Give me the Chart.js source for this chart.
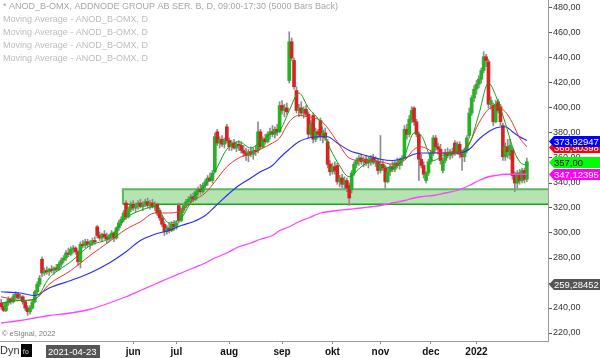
<!DOCTYPE html>
<html><head><meta charset="utf-8">
<script src="https://cdn.jsdelivr.net/npm/chart.js@4.4.1/dist/chart.umd.min.js"></script>
<style>html,body{margin:0;padding:0;background:#fff;overflow:hidden}#wrap{width:600px;height:358px;position:relative}</style>
</head><body><div id="wrap"><canvas id="c" width="600" height="358"></canvas></div>
<script>
// ---- daily OHLC (ANOD_B) ----
const open=[244,241,238,244,247,245,249,251,248,249,
245,240,237,240,245,253,259,279,268,270,
269,271,270,272,271,275,278,280,284,283,
287,288,285,277,291,290,293,291,292,294,
305,298,296,299,297,295,298,300,296,304,
308,311,324,313,319,323,320,322,324,321,
323,325,322,324,321,323,318,312,307,301,
304,302,307,305,322,310,318,322,325,327,
329,327,333,335,333,338,341,344,342,349,
381,372,375,371,385,374,369,372,368,371,
370,366,364,362,365,363,366,366,381,369,
375,373,379,381,379,383,381,402,398,400,
422,453,438,414,398,400,396,399,395,379,
394,375,381,390,377,380,373,355,349,353,
354,341,344,339,342,338,335,348,355,358,
360,357,359,356,358,360,357,357,350,355,
352,341,349,353,351,356,354,358,360,383,
379,391,400,389,379,359,354,342,348,357,
364,376,369,367,350,358,364,362,365,372,
364,371,363,361,366,378,396,408,415,419,
423,430,441,437,403,402,389,405,401,386,
361,369,362,366,346,340,348,342,350,343];
const high=[247,244,245,249,248,251,253,252,251,250,
246,242,242,246,254,261,266,281,272,273,
272,274,273,275,277,280,282,286,288,289,
290,289,286,293,294,295,295,294,296,297,
306,301,300,302,300,299,302,301,305,310,
313,318,326,321,325,326,324,326,327,325,
327,328,326,327,325,324,320,314,309,306,
308,309,310,310,324,320,324,327,329,331,
332,334,337,339,340,343,346,348,350,380,
383,377,378,376,387,376,374,375,373,374,
373,370,368,367,369,368,370,389,383,377,
379,381,384,386,385,387,405,406,403,404,
461,456,440,417,403,405,401,402,397,390,
396,384,383,392,382,384,375,358,356,357,
356,346,347,345,344,340,350,357,360,362,
363,361,362,361,362,363,361,359,378,358,
354,352,355,357,358,360,360,362,386,387,
394,401,401,391,381,363,357,349,359,366,
378,378,372,371,360,367,368,367,368,374,
373,373,366,368,378,400,410,418,422,426,
432,445,443,439,409,404,406,407,403,388,
372,375,375,368,349,350,351,352,352,360];
const low=[239,237,237,242,243,244,247,247,246,243,
238,234,235,239,244,251,257,265,266,267,
266,268,267,269,270,273,276,278,281,282,
284,283,274,272,288,288,289,287,290,291,
296,294,293,295,292,293,295,293,295,302,
306,309,311,312,317,318,317,319,320,318,
321,320,319,320,318,314,310,305,298,299,
300,301,302,303,308,309,316,320,322,324,
325,326,330,331,332,336,338,341,340,348,
370,368,369,368,372,366,366,367,365,366,
364,361,358,357,361,359,362,364,367,368,
371,372,375,377,376,378,380,395,393,395,
420,438,415,396,393,394,392,393,376,377,
372,373,376,374,372,374,352,346,347,347,
339,337,336,335,333,322,332,346,352,354,
355,353,354,352,354,355,353,347,348,350,
336,340,346,349,349,352,351,354,359,375,
377,388,386,377,342,352,344,340,346,355,
362,366,363,355,348,356,360,359,360,362,
363,360,350,357,364,376,394,405,411,416,
420,428,433,400,399,386,388,396,386,358,
358,360,359,343,333,336,339,340,340,341];
const close=[241,238,244,247,245,249,251,248,249,245,
240,237,240,245,253,259,264,268,270,269,
271,270,272,271,275,278,280,284,283,287,
288,285,277,291,290,293,291,292,294,293,
298,296,299,297,295,298,300,296,304,308,
311,316,313,319,323,320,322,324,321,323,
325,322,324,321,323,316,312,307,301,304,
302,307,305,308,310,318,322,325,327,329,
327,333,335,333,338,341,344,342,348,377,
372,375,371,374,374,369,372,368,371,370,
366,364,362,365,363,366,365,381,369,375,
373,379,381,379,383,381,402,398,400,397,
453,440,417,398,400,396,399,395,379,387,
375,381,379,377,380,376,355,349,353,350,
341,344,339,342,336,328,348,355,358,360,
357,359,356,358,360,357,358,350,355,352,
341,349,353,351,356,354,358,360,383,379,
391,398,389,379,359,354,347,348,357,364,
376,369,367,358,358,364,362,365,363,364,
371,363,361,366,376,396,408,415,419,423,
430,441,438,403,406,389,403,398,389,361,
369,365,370,346,340,348,342,350,343,357];

// ---- moving averages, read at these bar positions ----
const maIdx=[0,8,14,20,29,37,45,52,58,64,70,75,80,85,89,94,99,104,108,113,116,120,124,128,133,136,140,145,150,154,158,163,168,172,175,180,185,190,195,199,203,206,210,213,216,219];
const maFast=[244,246,247,264,277,290,296,312,318,321,308,312,328,338,349,367,373,368,373,380,382,398,412,400,388,372,357,345,353,357,354,352,362,380,378,358,363,365,371,395,420,410,388,369,357,354];
const maMid=[249,246,247,259,270,282,293,303,309,316,316,318,326,332,341,353,360,364,367,372,376,389,394,393,390,384,373,360,358,358,357,355,358,367,369,365,364,364,372,388,399,401,397,388,376,369];
const maSlow=[253,252,250,256,262,268,276,285,294,299,302,306,309,314,321,330,338,344,349,354,360,367,373,376,377,377,372,366,363,361,359,358,360,363,364,364,364,364,367,375,381,384,385,381,377,374];
const maLong=[228,230,232,234,236,239,244,249,254,259,264,268,272,276,280,284,289,292,295,298,302,305,309,312,316,317,318,319,320,321,322,324,326,328,329,330,332,334,338,342,345,346,347,347,347,347];

// ---- axis / annotation values ----
const yTicks=[220,240,260,280,300,320,340,360,380,400,420,440,460,480];
const monthIdx=[55,73,95,117,138,158,179,198];
const monthLabels=['jun','jul','aug','sep','okt','nov','dec','2022'];
const zoneRange=[323,335];
const zoneStartIdx=50.7;
const tagValues=[259.28452,347.12395,368.90398,373.92947,357.00];
const tagTexts=['259,28452','347,12395','368,90398','373,92947','357,00'];
const legendLines=['* ANOD_B-OMX, ADDNODE GROUP AB SER. B, D, 09:00-17:30 (5000 Bars Back)','Moving Average - ANOD_B-OMX, D','Moving Average - ANOD_B-OMX, D','Moving Average - ANOD_B-OMX, D','Moving Average - ANOD_B-OMX, D'];
const cursorDate='2021-04-23';

// ---- styles ----
const UP='#22b422', DOWN='#d82222', WICK='#8d8d8d';
const tagBg=['#555555','#ff00ff','#ff0000','#0000ff','#00ff00'];
const tagFg=['#ffffff','#ffffff','#ffffff','#ffffff','#000000'];
const FONT='"Liberation Sans", Arial, sans-serif';

const wickData=open.map((_,i)=>({x:i,y:[low[i],high[i]]}));
const bodyData=open.map((o,i)=>({x:i,y:[Math.min(o,close[i]),Math.max(o,close[i])]}));
const bodyColors=open.map((o,i)=>close[i]>=o?UP:DOWN);
const maPts=arr=>maIdx.map((x,k)=>({x:x,y:arr[k]}));

const overlay={
  id:'overlay',
  beforeDatasetsDraw(chart){
    const {ctx,chartArea:a,scales:{x,y}}=chart;
    const x0=x.getPixelForValue(zoneStartIdx), yT=y.getPixelForValue(zoneRange[1]), yB=y.getPixelForValue(zoneRange[0]);
    ctx.save();
    ctx.fillStyle='rgba(120,205,115,0.55)';
    ctx.fillRect(x0,yT,a.right-x0,yB-yT);
    ctx.strokeStyle='#5cb85c';ctx.lineWidth=2;
    ctx.beginPath();ctx.moveTo(a.right,yT);ctx.lineTo(x0,yT);ctx.lineTo(x0,yB);ctx.stroke();
    ctx.strokeStyle='#22a022';ctx.lineWidth=1.5;
    ctx.beginPath();ctx.moveTo(x0,yB);ctx.lineTo(a.right,yB);ctx.stroke();
    ctx.restore();
  },
  afterDraw(chart){
    const {ctx,scales:{y}}=chart;
    ctx.save();
    ctx.font='9px '+FONT;ctx.textBaseline='middle';ctx.textAlign='left';
    legendLines.forEach((t,k)=>{ctx.fillStyle=k===0?'#a6a6a6':'#bcbcbc';ctx.fillText(t,3,7+k*13);});
    ctx.font='9.5px '+FONT;
    tagValues.forEach((v,k)=>{
      const py=Math.round(y.getPixelForValue(v))+0.5, L=549;
      ctx.fillStyle=tagBg[k];
      ctx.beginPath();ctx.moveTo(L,py);ctx.lineTo(L+5,py-5.5);ctx.lineTo(600,py-5.5);ctx.lineTo(600,py+5.5);ctx.lineTo(L+5,py+5.5);ctx.closePath();ctx.fill();
      ctx.fillStyle=tagFg[k];ctx.fillText(tagTexts[k],L+5,py+0.5);
    });
    ctx.font='7.5px '+FONT;ctx.fillStyle='#7a7a7a';ctx.fillText('\u00a9 eSignal, 2022',2,334);
    ctx.font='11px '+FONT;ctx.fillStyle='#333';ctx.fillText('Dyn',0,351);
    ctx.fillStyle='#000';ctx.fillRect(21,344,11,13);
    ctx.font='bold 7px '+FONT;ctx.fillStyle='#9a9a9a';ctx.fillText('fo',22.5,352);
    ctx.fillStyle='#555';ctx.fillRect(46,345,54,13);
    ctx.font='9.5px '+FONT;ctx.fillStyle='#fff';ctx.fillText(cursorDate,48,352);
    ctx.restore();
  }
};

new Chart(document.getElementById('c'),{
  type:'bar',
  data:{datasets:[
    {type:'line',data:maPts(maFast),borderColor:'#11a011',borderWidth:1,pointRadius:0,tension:0.4,cubicInterpolationMode:'monotone',order:0},
    {type:'line',data:maPts(maMid),borderColor:'#f03030',borderWidth:1,pointRadius:0,tension:0.4,cubicInterpolationMode:'monotone',order:0},
    {type:'line',data:maPts(maSlow),borderColor:'#2b2bf0',borderWidth:1.1,pointRadius:0,tension:0.4,cubicInterpolationMode:'monotone',order:0},
    {type:'line',data:maPts(maLong),borderColor:'#ff44ff',borderWidth:1.3,pointRadius:0,tension:0.4,cubicInterpolationMode:'monotone',order:0},
    {type:'bar',data:bodyData,backgroundColor:bodyColors,barThickness:3,minBarLength:1,grouped:false,order:2},
    {type:'bar',data:wickData,backgroundColor:WICK,barThickness:1,grouped:false,order:3}
  ]},
  options:{
    responsive:false,animation:false,devicePixelRatio:1,
    layout:{padding:0},
    plugins:{legend:{display:false},tooltip:{enabled:false}},
    scales:{
      x:{type:'linear',min:-0.5,max:227.8,offset:false,position:'bottom',
        grid:{offset:false,drawOnChartArea:false,drawTicks:true,tickLength:3,color:'#888'},
        border:{color:'#9a9a9a'},
        ticks:{autoSkip:false,maxRotation:0,padding:2,color:'#111',font:{family:FONT,size:10,weight:'bold'},
          callback:(v)=>{const k=monthIdx.indexOf(v);return k>=0?monthLabels[k]:'';}},
        afterBuildTicks:s=>{s.ticks=monthIdx.map(v=>({value:v}));},
        afterFit:s=>{s.height=17;s.paddingLeft=0;s.paddingRight=0;}
      },
      y:{type:'linear',position:'right',min:213.6,max:486.4,
        grid:{drawOnChartArea:false,drawTicks:true,tickLength:4,color:'#555'},
        border:{color:'#9a9a9a'},
        ticks:{padding:1,color:'#333',font:{family:FONT,size:9},callback:v=>v.toFixed(2).replace('.',',')},
        afterBuildTicks:s=>{s.ticks=yTicks.map(v=>({value:v}));},
        afterFit:s=>{s.width=52;s.paddingTop=0;s.paddingBottom=0;}
      }
    }
  },
  plugins:[overlay]
});
</script></body></html>
